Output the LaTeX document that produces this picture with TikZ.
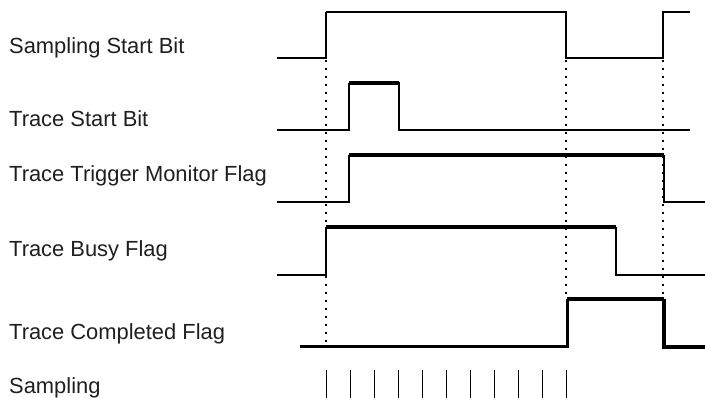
\documentclass[tikz,border=0pt]{standalone}
\usepackage{fontspec}
\setmainfont{Liberation Sans}
\begin{document}
\begin{tikzpicture}[x=1pt,y=-1pt,
  lbl/.style={anchor=base west,inner sep=0pt,font=\fontsize{21.9}{26}\selectfont,text=black!88},
  thin/.style={line width=1.1pt},
  mid/.style={line width=2.2pt},
  thick/.style={line width=4.5pt},
  dots/.style={line width=1.8pt,dash pattern=on 1.8pt off 6.2pt},
  tick/.style={line width=1pt}]
\useasboundingbox (0,0) rectangle (705,398);
% labels
\node[lbl] (l1) at (9,54) {Sampling Start Bit};
\node[lbl] (l2) at (9,127) {Trace Start Bit};
\node[lbl] (l3) at (9,182) {Trace Trigger Monitor Flag};
\node[lbl] (l4) at (9,257) {Trace Busy Flag};
\node[lbl] (l5) at (9,340) {Trace Completed Flag};
\node[lbl] (l6) at (9,393) {Sampling};
% dotted guide lines
\draw[dots] (326,60) -- (326,345);
\draw[dots] (566,60) -- (566,297);
\draw[dots] (663,60) -- (663,297);
% Sampling Start Bit
\draw[thin] (277,58) -- (326,58) -- (326,12);
\draw[line width=2.6pt,line join=miter] (326,12) -- (566,12) -- (566,58) -- (663,58) -- (663,12) -- (690,12);
% Trace Start Bit
\draw[thin] (277,130) -- (349,130) -- (349,83);
\draw[thick] (349,83) -- (399,83);
\draw[mid] (399,82) -- (399,130) -- (690,130);
% Trace Trigger Monitor Flag
\draw[thin] (277,202) -- (349,202) -- (349,155);
\draw[thick] (349,155) -- (664,155);
\draw[mid] (664,155) -- (664,202) -- (705,202);
% Trace Busy Flag
\draw[thin] (277,275) -- (326,275) -- (326,227);
\draw[thick] (326,227) -- (616,227);
\draw[mid] (616,227) -- (616,275) -- (705,275);
% Trace Completed Flag
\draw[line width=3pt] (300,347) -- (567,347) -- (567,299);
\draw[thick] (567,299) -- (664,299);
\draw[line width=3.5pt] (664,299) -- (664,347) -- (705,347);
% Sampling ticks
\foreach \i in {0,...,10}
  \draw[tick] ({326+24.05*\i},370) -- ({326+24.05*\i},398);
\end{tikzpicture}
\end{document}
